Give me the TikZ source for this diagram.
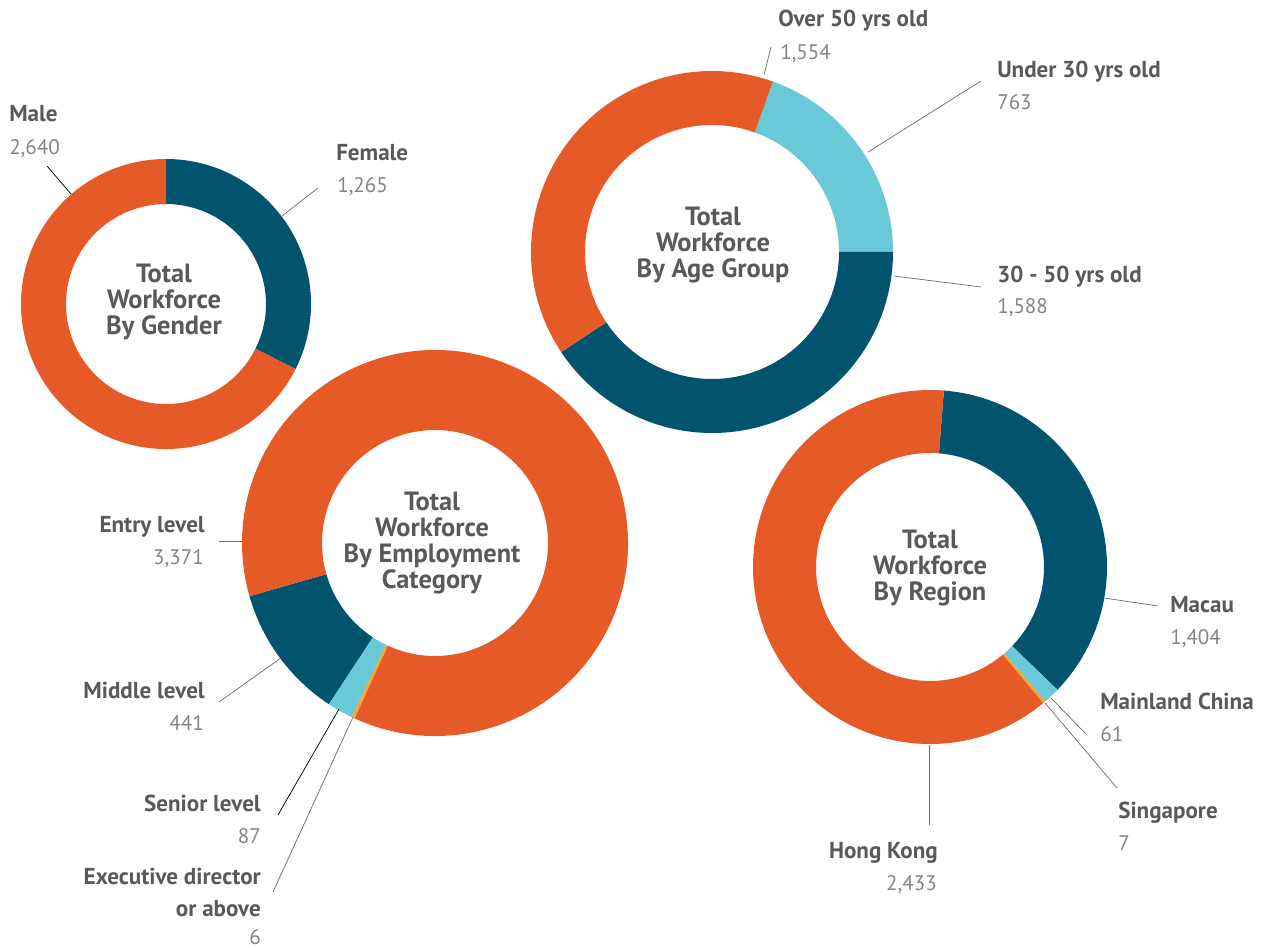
\documentclass[tikz,border=0pt]{standalone}
\usepackage{fontspec}
\setmainfont{PT Sans}
\usepackage{xcolor}
\definecolor{wforange}{HTML}{E55A27}
\definecolor{wfblue}{HTML}{02546E}
\definecolor{wfcyan}{HTML}{6AC9D8}
\definecolor{wfyellow}{HTML}{F6A531}
\definecolor{wftext}{HTML}{58595B}
\definecolor{wfnum}{HTML}{838486}
\definecolor{wfline}{HTML}{6D6E70}
\tikzset{
  lbl/.style={font=\fontsize{17.3}{19}\selectfont\bfseries, text=wftext, inner sep=0pt},
  num/.style={font=\fontsize{15.8}{18}\selectfont, text=wfnum, inner sep=0pt},
  ctr/.style={font=\fontsize{19.8}{19.5}\selectfont\bfseries, text=wftext, align=center, inner sep=0pt},
  lead/.style={draw=wfline, line width=0.55pt},
  leadk/.style={draw=black, line width=0.55pt}
}
\begin{document}
\begin{tikzpicture}[x=0.75pt, y=0.75pt]
  \useasboundingbox (0,0) rectangle (1277,-948);

  % по полу
  \begin{scope}[shift={(166,-304)}]
    \foreach \s/\e/\c in {90/-26.62/wfblue, -26.62/-270/wforange}
      \fill[\c] (\s:145) arc[start angle=\s, end angle=\e, radius=145]
        -- (\e:100) arc[start angle=\e, end angle=\s, radius=100] -- cycle;
  \end{scope}
  \node[ctr] (gender) at (164,-302) {Total\\Workforce\\By Gender};

  % по возрасту
  \begin{scope}[shift={(712,-252)}]
    \foreach \s/\e/\c in {70.34/0/wfcyan, 0/-146.4/wfblue, -146.4/-289.66/wforange}
      \fill[\c] (\s:181) arc[start angle=\s, end angle=\e, radius=181]
        -- (\e:127) arc[start angle=\e, end angle=\s, radius=127] -- cycle;
  \end{scope}
  \node[ctr] (age) at (713,-245) {Total\\Workforce\\By Age Group};

  % по категории
  \begin{scope}[shift={(435,-543)}]
    \foreach \s/\e/\c in {196/236.66/wfblue, 236.66/244.4/wfcyan,
        244.4/245.4/wfyellow, 245.4/556/wforange}
      \fill[\c] (\s:193) arc[start angle=\s, end angle=\e, radius=193]
        -- (\e:113) arc[start angle=\e, end angle=\s, radius=113] -- cycle;
  \end{scope}
  \node[ctr] (category) at (432,-543) {Total\\Workforce\\By Employment\\Category};

  % по региону
  \begin{scope}[shift={(930,-567)}]
    \foreach \s/\e/\c in {85.5/-43.93/wfblue, -43.93/-49.3/wfcyan,
        -49.3/-50.3/wfyellow, -50.3/-274.5/wforange}
      \fill[\c] (\s:177) arc[start angle=\s, end angle=\e, radius=177]
        -- (\e:114) arc[start angle=\e, end angle=\s, radius=114] -- cycle;
  \end{scope}
  \node[ctr] (region) at (930,-568) {Total\\Workforce\\By Region};

  % подписи слева направо
  \node[lbl, anchor=base west] (male) at (9,-122) {Male};
  \node[num, anchor=base west] (malen) at (9,-155) {2,640};
  \node[lbl, anchor=base west] (female) at (336,-161) {Female};
  \node[num, anchor=base west] (femalen) at (337,-193) {1,265};

  \node[lbl, anchor=base west] (over) at (778,-27) {Over 50 yrs old};
  \node[num, anchor=base west] (overn) at (780,-60) {1,554};
  \node[lbl, anchor=base west] (under) at (997,-78) {Under 30 yrs old};
  \node[num, anchor=base west] (undern) at (997,-110) {763};
  \node[lbl, anchor=base west] (mid) at (997,-283) {30 - 50 yrs old};
  \node[num, anchor=base west] (midn) at (997,-314) {1,588};

  \node[lbl, anchor=base east] (entry) at (205,-532) {Entry level};
  \node[num, anchor=base east] (entryn) at (204,-564) {3,371};
  \node[lbl, anchor=base east] (middle) at (205,-698) {Middle level};
  \node[num, anchor=base east] (middlen) at (204,-730) {441};
  \node[lbl, anchor=base east] (senior) at (261,-811) {Senior level};
  \node[num, anchor=base east] (seniorn) at (261,-843) {87};
  \node[lbl, anchor=base east] (exec) at (261,-884) {Executive director};
  \node[lbl, anchor=base east] (exec2) at (261,-916) {or above};
  \node[num, anchor=base east] (execn) at (261,-944) {6};

  \node[lbl, anchor=base west] (macau) at (1170,-612) {Macau};
  \node[num, anchor=base west] (macaun) at (1170,-644) {1,404};
  \node[lbl, anchor=base west] (china) at (1100,-709) {Mainland China};
  \node[num, anchor=base west] (chinan) at (1100,-741) {61};
  \node[lbl, anchor=base west] (sing) at (1118,-818) {Singapore};
  \node[num, anchor=base west] (singn) at (1118,-850) {7};
  \node[lbl, anchor=base east] (hk) at (938,-858) {Hong Kong};
  \node[num, anchor=base east] (hkn) at (937,-890) {2,433};

  % выноски
  \coordinate (male-a) at (47,-166);   \coordinate (male-b) at (71,-194);
  \coordinate (female-a) at (318,-188); \coordinate (female-b) at (282,-216);
  \coordinate (over-a) at (771,-47);   \coordinate (over-b) at (764,-75);
  \coordinate (under-a) at (981,-81);  \coordinate (under-b) at (868,-152);
  \coordinate (mid-a) at (981,-287);   \coordinate (mid-b) at (894,-276);
  \coordinate (entry-a) at (219,-541); \coordinate (entry-b) at (243,-541);
  \coordinate (middle-a) at (219,-702); \coordinate (middle-b) at (281,-658);
  \coordinate (senior-a) at (278,-815); \coordinate (senior-b) at (339,-709);
  \coordinate (exec-a) at (273,-892);  \coordinate (exec-b) at (353,-717);
  \coordinate (macau-a) at (1158,-606); \coordinate (macau-b) at (1104,-598);
  \coordinate (china-a) at (1086,-734); \coordinate (china-b) at (1051,-698);
  \coordinate (sing-a) at (1117,-788); \coordinate (sing-b) at (1045,-703);
  \coordinate (hk-a) at (929,-825);    \coordinate (hk-b) at (929,-745);

  \draw[leadk] (male-a) -- (male-b);
  \draw[leadk] (senior-a) -- (senior-b);
  \foreach \n in {female, over, under, mid, entry, middle, exec, macau, china, sing, hk}
    \draw[lead] (\n-a) -- (\n-b);
\end{tikzpicture}
\end{document}
